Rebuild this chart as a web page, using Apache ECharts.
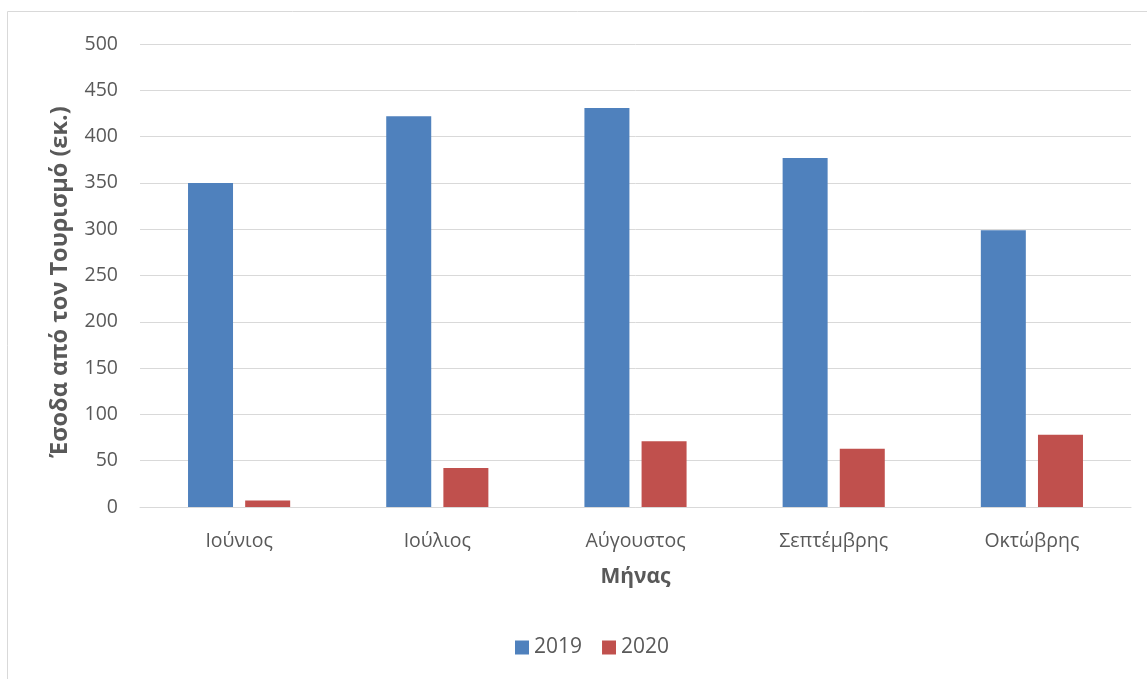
<!DOCTYPE html>
<html><head><meta charset="utf-8">
<script src="https://cdn.jsdelivr.net/npm/echarts@6/dist/echarts.min.js"></script>
<style>html,body{margin:0;padding:0;background:#fff}#c{width:1147px;height:679px}</style>
</head><body><div id="c"></div>
<script>
const categories = ['Ιούνιος', 'Ιούλιος', 'Αύγουστος', 'Σεπτέμβρης', 'Οκτώβρης'];
const values2019 = [350, 422, 431, 377, 299];
const values2020 = [7, 42, 71, 63, 78];
const seriesNames = ['2019', '2020'];
const yTitle = 'Έσοδα από τον Τουρισμό (εκ.)';
const xTitle = 'Μήνας';

const font = 'Open Sans, Noto Sans, DejaVu Sans, sans-serif';
const chart = echarts.init(document.getElementById('c'), null, {renderer: 'canvas'});
chart.setOption({
  animation: false,
  graphic: [
    {type: 'rect', shape: {x: 7.5, y: 11.5, width: 1145, height: 680}, style: {fill: 'none', stroke: '#d9d9d9', lineWidth: 1}},
    {type: 'text', x: 60, y: 282, rotation: Math.PI / 2,
     style: {text: yTitle, fill: '#595959', font: 'bold 23.5px ' + font, textAlign: 'center', textVerticalAlign: 'middle'}}
  ],
  grid: {left: 140, right: 16, top: 44, bottom: 172},
  legend: {
    data: seriesNames, bottom: 16, left: 510, itemWidth: 14, itemHeight: 14, itemGap: 20,
    icon: 'rect', textStyle: {color: '#595959', fontSize: 21, fontFamily: font}
  },
  xAxis: {
    type: 'category', data: categories,
    name: xTitle, nameLocation: 'middle', nameGap: 60,
    nameTextStyle: {color: '#595959', fontSize: 21, fontWeight: 'bold', fontFamily: font},
    axisLine: {lineStyle: {color: '#d9d9d9', width: 1}},
    axisTick: {show: false},
    axisLabel: {color: '#595959', fontSize: 19.5, fontFamily: font, margin: 24}
  },
  yAxis: {
    type: 'value', min: 0, max: 500, interval: 50,
    axisLine: {show: false}, axisTick: {show: false},
    splitLine: {lineStyle: {color: '#d9d9d9', width: 1}},
    axisLabel: {color: '#595959', fontSize: 19.5, fontFamily: font, margin: 22}
  },
  series: [
    {name: seriesNames[0], type: 'bar', data: values2019, barWidth: 45, barGap: '27%', itemStyle: {color: '#4f81bd'}},
    {name: seriesNames[1], type: 'bar', data: values2020, barWidth: 45, itemStyle: {color: '#c0504d'}}
  ]
});
</script></body></html>
